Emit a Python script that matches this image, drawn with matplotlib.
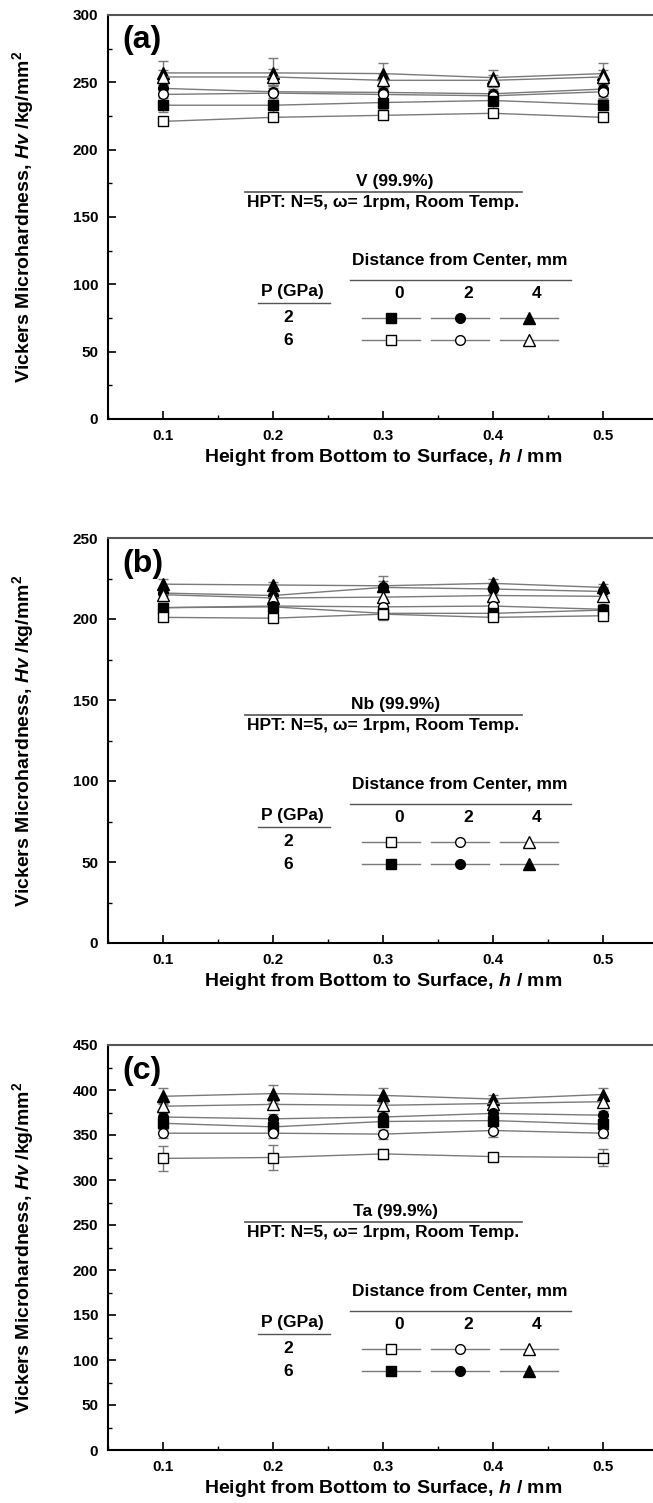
import numpy as np
import matplotlib.pyplot as plt
from matplotlib.ticker import MultipleLocator

plt.rcParams['font.family'] = ['Liberation Sans', 'DejaVu Sans']
plt.rcParams['font.weight'] = 'bold'
plt.rcParams['axes.labelweight'] = 'bold'
plt.rcParams['mathtext.fontset'] = 'custom'
plt.rcParams['mathtext.rm'] = 'Liberation Sans:bold'
plt.rcParams['mathtext.it'] = 'Liberation Sans:italic:bold'
plt.rcParams['mathtext.bf'] = 'Liberation Sans:bold'

# Height from bottom to surface, mm
h = [0.1, 0.2, 0.3, 0.4, 0.5]

# Panel (a) V (99.9%) - legend: 2 GPa filled, 6 GPa open
v_tri_f = [257, 257, 256.5, 253.5, 256.5]
v_tri_f_err = [9, 11, 7.5, 6, 8]
v_tri_o = [254, 254, 251.5, 251.5, 254]
v_tri_o_err = [5, 6, 5, 4, 5]
v_cir_f = [245.5, 243, 242.5, 241.5, 245]
v_cir_f_err = [6, 5, 5, 5, 5]
v_cir_o = [241, 242, 241, 240, 243]
v_cir_o_err = [5, 5, 5, 5, 5]
v_sq_f = [233, 233, 235, 236.5, 233.5]
v_sq_f_err = [5, 5, 5, 7, 4]
v_sq_o = [221, 224, 225.5, 227, 224]
v_sq_o_err = [3, 3, 3, 3, 3]

# Panel (b) Nb (99.9%) - legend: 2 GPa open, 6 GPa filled
nb_tri_f = [221.5, 221, 220.5, 222, 219.5]
nb_tri_f_err = [3, 2, 3, 3, 2]
nb_cir_f = [216, 214.5, 219.5, 218.5, 217]
nb_cir_f_err = [3, 3, 7, 3, 3]
nb_tri_o = [215, 213, 213.5, 214.5, 214]
nb_tri_o_err = [3, 3, 3, 3, 3]
nb_cir_o = [207, 208, 207.5, 208, 206]
nb_cir_o_err = [3, 3, 3, 3, 3]
nb_sq_f = [207, 207.5, 203.5, 203.5, 205.5]
nb_sq_f_err = [3, 3, 4, 3, 3]
nb_sq_o = [201, 200.5, 203, 201, 202]
nb_sq_o_err = [2, 2, 2, 2, 2]

# Panel (c) Ta (99.9%) - legend: 2 GPa open, 6 GPa filled
ta_tri_f = [393, 396, 394, 390, 395]
ta_tri_f_err = [9, 10, 8, 5, 7]
ta_tri_o = [382, 384, 383, 385, 387]
ta_tri_o_err = [4, 4, 4, 4, 4]
ta_cir_f = [370, 368, 370, 374, 372]
ta_cir_f_err = [5, 5, 5, 5, 5]
ta_sq_f = [363, 359, 365, 366, 362]
ta_sq_f_err = [6, 6, 6, 6, 6]
ta_cir_o = [352, 352, 351, 355, 352]
ta_cir_o_err = [5, 5, 5, 7, 5]
ta_sq_o = [324, 325, 329, 326, 325]
ta_sq_o_err = [14, 14, 6, 4, 9]

LINE = '#7a7a7a'
FS = 12.5


def draw_series(ax, y, err, marker, filled):
    ax.errorbar(h, y, yerr=err, color=LINE, lw=1.0, marker=marker,
                ms=8 if marker == '^' else 7,
                mfc='black' if filled else 'white', mec='black', mew=1.0,
                ecolor=LINE, elinewidth=1.0, capsize=3.5, capthick=1.0, zorder=3)


def draw_legend(ax, title, row2_filled):
    tr = ax.transAxes
    ax.text(0.522, 0.588, title, transform=tr, ha='center', va='center', fontsize=FS)
    ax.plot([0.249, 0.753], [0.562, 0.562], transform=tr, color='#555555', lw=1.2)
    ax.text(0.5, 0.536, 'HPT: N=5, \u03c9= 1rpm, Room Temp.', transform=tr,
            ha='center', va='center', fontsize=FS)
    ax.text(0.64, 0.393, 'Distance from Center, mm', transform=tr,
            ha='center', va='center', fontsize=FS)
    ax.plot([0.44, 0.842], [0.343, 0.343], transform=tr, color='#555555', lw=1.0)
    ax.text(0.336, 0.316, 'P (GPa)', transform=tr, ha='center', va='center', fontsize=FS)
    ax.plot([0.273, 0.404], [0.286, 0.286], transform=tr, color='#555555', lw=1.0)
    ax.text(0.328, 0.250, '2', transform=tr, ha='center', va='center', fontsize=FS)
    ax.text(0.328, 0.195, '6', transform=tr, ha='center', va='center', fontsize=FS)
    cols = [0.515, 0.64, 0.765]
    for cx, lab, mk in zip(cols, ['0', '2', '4'], ['s', 'o', '^']):
        ax.text(cx + 0.015, 0.311, lab, transform=tr, ha='center', va='center', fontsize=FS)
        for fy, filled in [(0.250, row2_filled), (0.195, not row2_filled)]:
            ax.plot([cx - 0.053, cx + 0.053], [fy, fy], transform=tr, color=LINE, lw=1.0)
            ax.plot([cx], [fy], transform=tr, marker=mk, ms=8 if mk == '^' else 7,
                    mec='black', mew=1.0, mfc='black' if filled else 'white', ls='none')


fig = plt.figure(figsize=(6.53, 15.03), dpi=100)
W = 653.0
H = 1503.0
left = 108 / W
width = 550 / W
panels = [
    (15, 419, 300, 'V (99.9%)', '(a)', True,
     [(v_tri_f, v_tri_f_err, '^', True), (v_tri_o, v_tri_o_err, '^', False),
      (v_cir_f, v_cir_f_err, 'o', True), (v_cir_o, v_cir_o_err, 'o', False),
      (v_sq_f, v_sq_f_err, 's', True), (v_sq_o, v_sq_o_err, 's', False)]),
    (538, 943, 250, 'Nb (99.9%)', '(b)', False,
     [(nb_tri_f, nb_tri_f_err, '^', True), (nb_cir_f, nb_cir_f_err, 'o', True),
      (nb_tri_o, nb_tri_o_err, '^', False), (nb_cir_o, nb_cir_o_err, 'o', False),
      (nb_sq_f, nb_sq_f_err, 's', True), (nb_sq_o, nb_sq_o_err, 's', False)]),
    (1045, 1450, 450, 'Ta (99.9%)', '(c)', False,
     [(ta_tri_f, ta_tri_f_err, '^', True), (ta_tri_o, ta_tri_o_err, '^', False),
      (ta_cir_f, ta_cir_f_err, 'o', True), (ta_sq_f, ta_sq_f_err, 's', True),
      (ta_cir_o, ta_cir_o_err, 'o', False), (ta_sq_o, ta_sq_o_err, 's', False)]),
]

for top, bot, ymax, title, tag, row2_filled, series in panels:
    ax = fig.add_axes([left, 1 - bot / H, width, (bot - top) / H])
    for y, err, mk, filled in series:
        draw_series(ax, y, err, mk, filled)
    ax.set_xlim(0.05, 0.55)
    ax.set_ylim(0, ymax)
    ax.xaxis.set_major_locator(MultipleLocator(0.1))
    ax.xaxis.set_minor_locator(MultipleLocator(0.05))
    ax.yaxis.set_major_locator(MultipleLocator(50))
    ax.yaxis.set_minor_locator(MultipleLocator(25))
    ax.tick_params(which='both', direction='in', labelsize=11, pad=7)
    ax.tick_params(which='major', length=6, width=1.2)
    ax.tick_params(which='minor', length=3, width=1.0)
    for s in ax.spines.values():
        s.set_linewidth(1.5)
    ax.spines['top'].set_color('#555555')
    ax.set_xlabel('Height from Bottom to Surface, $\\it{h}$ / mm', fontsize=14, labelpad=3)
    ax.set_ylabel('Vickers Microhardness, $\\it{Hv}$ /kg/mm$^\\mathbf{2}$', fontsize=14)
    ax.yaxis.set_label_coords(-0.130, 0.5)
    ax.text(0.027, 0.937, tag, transform=ax.transAxes, fontsize=23, ha='left', va='center')
    draw_legend(ax, title, row2_filled)

fig.savefig('out.png', dpi=100)
